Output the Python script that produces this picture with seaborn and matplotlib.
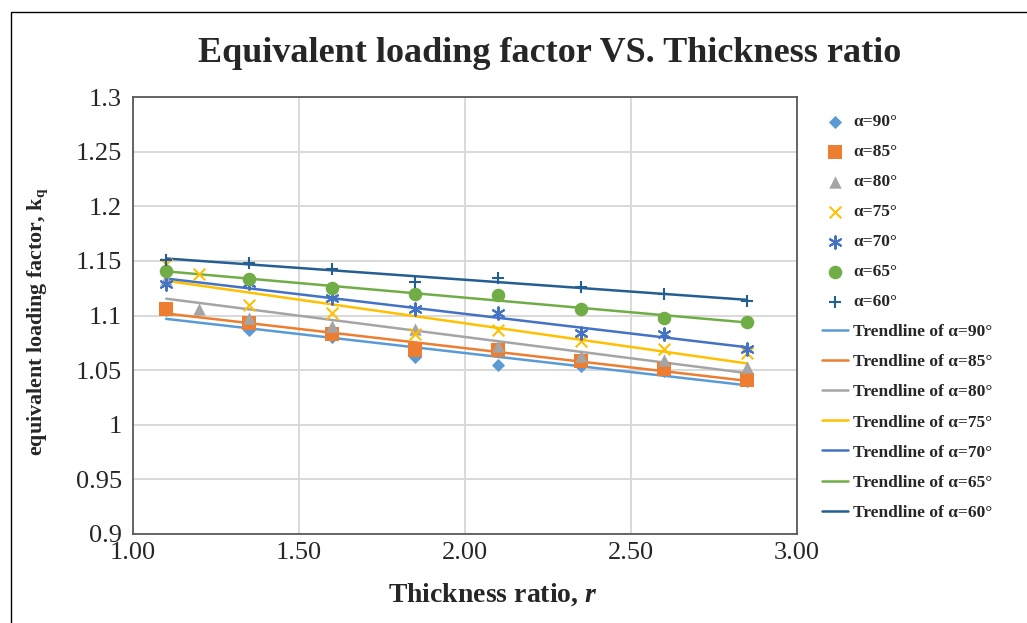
import numpy as np
import pandas as pd
import matplotlib
matplotlib.use("Agg")
import matplotlib.pyplot as plt
import seaborn as sns
from matplotlib.patches import Rectangle

# thickness ratio r
r = [1.1, 1.35, 1.6, 1.85, 2.1, 2.35, 2.6, 2.85]
r_extra = [1.1, 1.2, 1.35, 1.6, 1.85, 2.1, 2.35, 2.6, 2.85]

# equivalent loading factor k_q per angle
k90 = [1.105, 1.087, 1.080, 1.062, 1.055, 1.054, 1.049, 1.040]
k85 = [1.106, 1.093, 1.083, 1.068, 1.068, 1.058, 1.051, 1.041]
k80 = [1.133, 1.106, 1.098, 1.090, 1.088, 1.072, 1.063, 1.059, 1.053]
k75 = [1.147, 1.138, 1.110, 1.102, 1.083, 1.087, 1.077, 1.069, 1.066]
k70 = [1.129, 1.130, 1.116, 1.106, 1.102, 1.084, 1.083, 1.069]
k65 = [1.141, 1.133, 1.125, 1.120, 1.119, 1.106, 1.098, 1.094]
k60 = [1.151, 1.148, 1.143, 1.131, 1.134, 1.126, 1.120, 1.113]

angles = [90, 85, 80, 75, 70, 65, 60]
xs = [r, r, r_extra, r_extra, r, r, r]
ys = [k90, k85, k80, k75, k70, k65, k60]

colors = ["#5B9BD5", "#ED7D31", "#A5A5A5", "#FFC000", "#4472C4", "#70AD47", "#255E91"]
markers = ["D", "s", "^", "x", (6, 2, 0), "o", "+"]
sizes = [45, 90, 80, 70, 80, 95, 80]

sns.set_style("white")
plt.rcParams["font.family"] = ["Liberation Serif", "DejaVu Serif"]
plt.rcParams["mathtext.fontset"] = "custom"
plt.rcParams["mathtext.rm"] = "Liberation Serif"
plt.rcParams["mathtext.it"] = "Liberation Serif:italic:bold"
plt.rcParams["mathtext.bf"] = "Liberation Serif:bold"

fig = plt.figure(figsize=(10.27, 6.23), dpi=100)
ax = fig.add_axes([133 / 1027, 1 - 534 / 623, (797 - 133) / 1027, (534 - 97) / 623])

for a, x, y, c, m, s in zip(angles, xs, ys, colors, markers, sizes):
    df = pd.DataFrame({"r": x, "k": y})
    filled = m in ("D", "s", "^", "o")
    sns.scatterplot(data=df, x="r", y="k", ax=ax, color=c, marker=m, s=s,
                    edgecolor=c if filled else None, linewidth=0 if filled else 1.5,
                    label=f"α={a}°", zorder=4, legend=False)

for a, x, y, c in zip(angles, xs, ys, colors):
    df = pd.DataFrame({"r": x, "k": y})
    sns.regplot(data=df, x="r", y="k", ax=ax, scatter=False, ci=None, truncate=True,
                color=c, line_kws={"linewidth": 1.8, "zorder": 3},
                label=f"Trendline of α={a}°")

ax.set_xlim(1.0, 3.0)
ax.set_ylim(0.9, 1.3)
ax.set_xticks(np.arange(1.0, 3.01, 0.5))
ax.set_xticklabels([f"{v:.2f}" for v in np.arange(1.0, 3.01, 0.5)])
yt = np.arange(0.9, 1.301, 0.05)
ax.set_yticks(yt)
ax.set_yticklabels([f"{v:.2f}".rstrip("0").rstrip(".") if abs(v - 1) > 1e-9 else "1" for v in yt])
ax.tick_params(axis="both", length=0, labelsize=19)
ax.tick_params(axis="y", pad=8)
ax.tick_params(axis="x", pad=6)
ax.grid(True, color="#D9D9D9", linewidth=1.4)
ax.set_axisbelow(True)
for sp in ax.spines.values():
    sp.set_color("#595959")
    sp.set_linewidth(1.3)

ax.set_xlabel("Thickness ratio, $\\mathit{r}$", fontsize=20, fontweight="bold")
ax.xaxis.set_label_coords((493 - 133) / 664, (534 - 581) / 437)
ax.set_ylabel("equivalent loading factor, k$_\\mathbf{q}$", fontsize=15.8, fontweight="bold")
ax.yaxis.set_label_coords((50 - 133) / 664, (534 - 322) / 437)
fig.suptitle("Equivalent loading factor VS. Thickness ratio", fontsize=26, fontweight="bold",
             x=0.535, y=1 - 53 / 623, va="center")

handles, labels = ax.get_legend_handles_labels()
fig.legend(handles, labels, loc="upper left", bbox_to_anchor=(815 / 1027, 1 - 107 / 623),
           frameon=False, prop={"family": "Liberation Serif", "weight": "bold", "size": 12.5},
           labelspacing=0.8, handlelength=1.5, handletextpad=0.3, borderaxespad=0)

fig.patches.append(Rectangle((11 / 1027, -0.05), 1.2, 1 - 12 / 623 + 0.05, transform=fig.transFigure,
                             fill=False, edgecolor="#000000", linewidth=1.0))

fig.savefig("out.png", dpi=100)
